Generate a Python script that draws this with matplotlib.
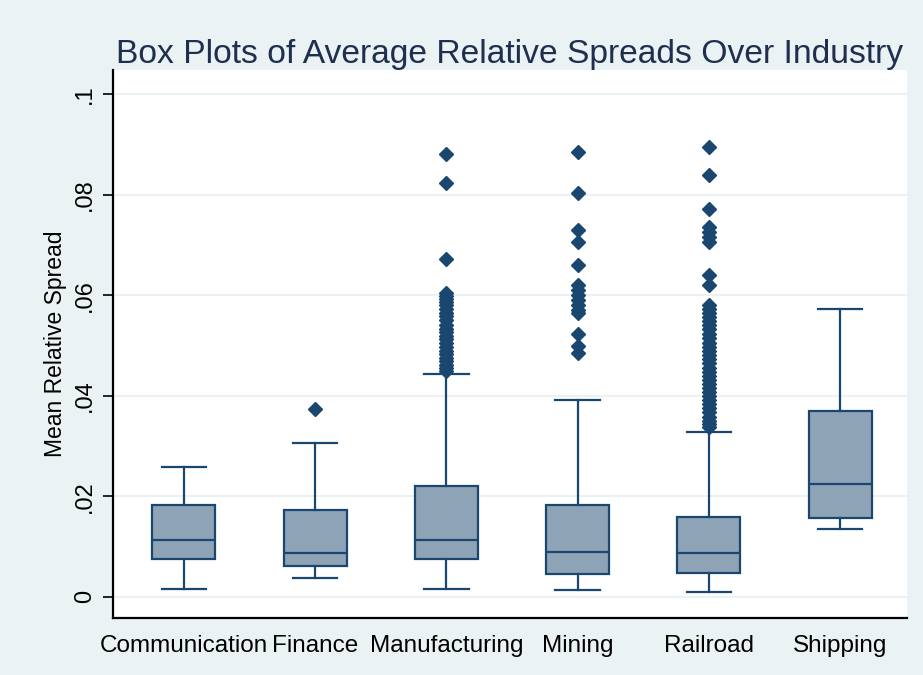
import matplotlib.pyplot as plt
import numpy as np

plt.rcParams['font.family'] = ['Liberation Sans', 'DejaVu Sans']

industries = ['Communication', 'Finance', 'Manufacturing', 'Mining', 'Railroad', 'Shipping']

# five-number summaries
whisker_low = [0.0016, 0.0038, 0.0016, 0.0013, 0.0009, 0.0135]
q1 = [0.0076, 0.0061, 0.0076, 0.0046, 0.0048, 0.0157]
median = [0.0113, 0.0087, 0.0113, 0.0090, 0.0087, 0.0224]
q3 = [0.0183, 0.0172, 0.0221, 0.0183, 0.0158, 0.0369]
whisker_high = [0.0258, 0.0306, 0.0443, 0.0392, 0.0328, 0.0573]

outliers_comm = []
outliers_fin = [0.0374]
outliers_manu = [0.0880, 0.0824, 0.0672,
                 0.0604, 0.0598, 0.0592, 0.0586, 0.0580, 0.0572, 0.0565, 0.0558,
                 0.0550, 0.0540, 0.0533, 0.0526, 0.0519, 0.0512, 0.0505, 0.0498,
                 0.0490, 0.0483, 0.0476, 0.0469, 0.0462, 0.0455, 0.0449]
outliers_mining = [0.0884, 0.0803, 0.0730, 0.0705, 0.0660,
                   0.0620, 0.0610, 0.0600, 0.0590, 0.0580, 0.0570, 0.0565,
                   0.0523, 0.0500, 0.0486]
outliers_rail = [0.0895, 0.0839, 0.0771, 0.0736, 0.0726, 0.0716, 0.0706,
                 0.0640, 0.0620,
                 0.0580, 0.0572, 0.0564, 0.0556, 0.0548, 0.0540, 0.0532, 0.0522,
                 0.0514, 0.0506, 0.0498, 0.0490, 0.0482, 0.0474, 0.0466, 0.0456,
                 0.0448, 0.0440, 0.0432, 0.0424, 0.0416, 0.0408, 0.0400, 0.0392,
                 0.0384, 0.0376, 0.0368, 0.0358, 0.0350, 0.0343, 0.0337]
outliers_ship = []
outliers = [outliers_comm, outliers_fin, outliers_manu, outliers_mining, outliers_rail, outliers_ship]

y_ticks = [0, 0.02, 0.04, 0.06, 0.08, 0.1]
y_tick_labels = ['0', '.02', '.04', '.06', '.08', '.1']

bg = '#EAF2F3'
navy = '#1A476F'

stats = []
for i, name in enumerate(industries):
    stats.append(dict(label=name, whislo=whisker_low[i], q1=q1[i], med=median[i],
                      q3=q3[i], whishi=whisker_high[i], fliers=outliers[i]))

fig = plt.figure(figsize=(9.23, 6.75), dpi=100, facecolor=bg)
ax = fig.add_axes([0.1224, 0.0844, 0.8603, 0.8119])
ax.set_facecolor('white')

ax.bxp(stats, positions=range(1, 7), widths=0.48, patch_artist=True,
       boxprops=dict(facecolor='#8EA3B6', edgecolor=navy, linewidth=1.6),
       medianprops=dict(color=navy, linewidth=1.6),
       whiskerprops=dict(color=navy, linewidth=1.6),
       capprops=dict(color=navy, linewidth=1.6),
       capwidths=0.34,
       flierprops=dict(marker='D', markersize=7.5, markerfacecolor=navy,
                       markeredgecolor=navy, linestyle='none'))

ax.set_xlim(0.46, 6.51)
ax.set_ylim(-0.0042, 0.1048)
ax.set_yticks(y_ticks)
ax.set_yticklabels(y_tick_labels, rotation=90, va='center', fontsize=17)
ax.tick_params(axis='y', length=7, width=1.2, pad=5)
ax.tick_params(axis='x', length=0, labelsize=17.5, pad=12)
ax.yaxis.grid(True, color=bg, linewidth=1.5)
ax.set_axisbelow(True)

for side in ['top', 'right']:
    ax.spines[side].set_visible(False)
for side in ['left', 'bottom']:
    ax.spines[side].set_linewidth(1.6)
    ax.spines[side].set_color('black')

ax.set_ylabel('Mean Relative Spread', fontsize=16.5, labelpad=5)
ax.set_title('Box Plots of Average Relative Spreads Over Industry',
             fontsize=24.2, color='#1E2F4F', pad=5)

fig.savefig('out.png', dpi=100, facecolor=bg)
